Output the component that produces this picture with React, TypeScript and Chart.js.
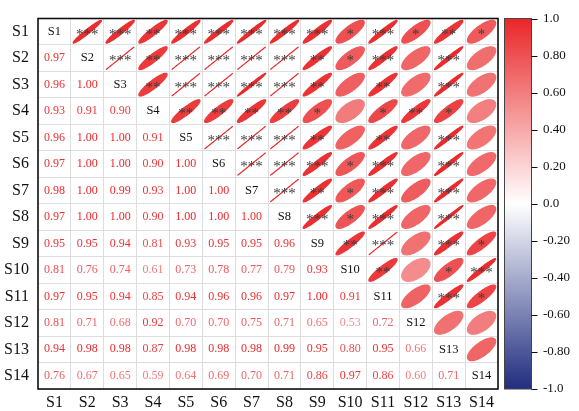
import React, { useEffect, useRef } from 'react';
import { Chart, registerables } from 'chart.js';

Chart.register(...registerables);

const labels = ['S1', 'S2', 'S3', 'S4', 'S5', 'S6', 'S7', 'S8', 'S9', 'S10', 'S11', 'S12', 'S13', 'S14'];

// lower triangle: lowerValues[row][col] for col < row
const lowerValues: number[][] = [
  [],
  [0.97],
  [0.96, 1.0],
  [0.93, 0.91, 0.9],
  [0.96, 1.0, 1.0, 0.91],
  [0.97, 1.0, 1.0, 0.9, 1.0],
  [0.98, 1.0, 0.99, 0.93, 1.0, 1.0],
  [0.97, 1.0, 1.0, 0.9, 1.0, 1.0, 1.0],
  [0.95, 0.95, 0.94, 0.81, 0.93, 0.95, 0.95, 0.96],
  [0.81, 0.76, 0.74, 0.61, 0.73, 0.78, 0.77, 0.79, 0.93],
  [0.97, 0.95, 0.94, 0.85, 0.94, 0.96, 0.96, 0.97, 1.0, 0.91],
  [0.81, 0.71, 0.68, 0.92, 0.7, 0.7, 0.75, 0.71, 0.65, 0.53, 0.72],
  [0.94, 0.98, 0.98, 0.87, 0.98, 0.98, 0.98, 0.99, 0.95, 0.8, 0.95, 0.66],
  [0.76, 0.67, 0.65, 0.59, 0.64, 0.69, 0.7, 0.71, 0.86, 0.97, 0.86, 0.6, 0.71],
];

// significance stars: stars[row][k] for col = row + 1 + k
const stars: string[][] = [
  ['***', '***', '**', '***', '***', '***', '***', '***', '*', '***', '*', '**', '*'],
  ['***', '**', '***', '***', '***', '***', '**', '*', '***', '', '***', ''],
  ['**', '***', '***', '***', '***', '**', '', '**', '', '***', ''],
  ['**', '**', '**', '**', '*', '', '*', '**', '*', ''],
  ['***', '***', '***', '**', '', '**', '', '***', ''],
  ['***', '***', '***', '*', '***', '', '***', ''],
  ['***', '**', '*', '***', '', '***', ''],
  ['***', '*', '***', '', '***', ''],
  ['**', '***', '', '***', '*'],
  ['**', '', '*', '***'],
  ['', '***', '*'],
  ['', ''],
  [''],
];

const colorbarMin = -1;
const colorbarMax = 1;
const colorbarStep = 0.2;

const FONT = '"Liberation Serif", "Times New Roman", serif';

const NEG = [33, 45, 128];
const MID = [255, 255, 255];
const POS = [234, 38, 40];

function colorFor(r: number): string {
  const t = Math.min(1, Math.abs(r));
  const c = r >= 0 ? POS : NEG;
  const v = MID.map((m, k) => Math.round(m + (c[k] - m) * t));
  return `rgb(${v[0]},${v[1]},${v[2]})`;
}

const matrixPlugin = {
  id: 'matrixPlugin',
  afterDraw(chart: any) {
    const { ctx, chartArea } = chart;
    const xs = chart.scales.x;
    const ys = chart.scales.y;
    const cb = chart.scales.cb;
    const n = labels.length;
    const cw = (chartArea.right - chartArea.left) / n;
    const chh = (chartArea.bottom - chartArea.top) / n;

    ctx.save();
    for (let i = 0; i < n; i++) {
      for (let j = 0; j < n; j++) {
        const cx = xs.getPixelForValue(j);
        const cy = ys.getPixelForValue(i);
        if (i === j) {
          ctx.fillStyle = '#111';
          ctx.font = `12.5px ${FONT}`;
          ctx.textAlign = 'center';
          ctx.textBaseline = 'middle';
          ctx.fillText(labels[i], cx, cy);
        } else if (j < i) {
          const r = lowerValues[i][j];
          ctx.fillStyle = colorFor(r);
          ctx.font = `12px ${FONT}`;
          ctx.textAlign = 'center';
          ctx.textBaseline = 'middle';
          ctx.fillText(r.toFixed(2), cx, cy);
        } else {
          const r = lowerValues[j][i];
          const d = Math.acos(Math.max(-1, Math.min(1, r)));
          const hw = (cw / 2) * 0.86;
          const hh = (chh / 2) * 0.86;
          ctx.beginPath();
          const steps = 80;
          for (let s = 0; s <= steps; s++) {
            const t = (s / steps) * Math.PI * 2;
            const px = cx + hw * Math.cos(t + d / 2);
            const py = cy - hh * Math.cos(t - d / 2);
            if (s === 0) ctx.moveTo(px, py);
            else ctx.lineTo(px, py);
          }
          ctx.closePath();
          const col = colorFor(r);
          ctx.fillStyle = col;
          ctx.strokeStyle = col;
          ctx.lineWidth = 1.2;
          ctx.fill();
          ctx.stroke();
          const st = stars[i][j - i - 1];
          if (st) {
            ctx.fillStyle = '#3c3c3c';
            ctx.font = `15px ${FONT}`;
            ctx.textAlign = 'center';
            ctx.textBaseline = 'alphabetic';
            ctx.fillText(st, cx, cy + 7);
          }
        }
      }
    }

    // outer border
    ctx.strokeStyle = '#111';
    ctx.lineWidth = 1.6;
    ctx.strokeRect(chartArea.left, chartArea.top, chartArea.right - chartArea.left, chartArea.bottom - chartArea.top);

    // colorbar
    const bx0 = cb.left + 6.5;
    const bx1 = cb.left + 33.5;
    const by0 = cb.getPixelForValue(colorbarMax);
    const by1 = cb.getPixelForValue(colorbarMin);
    const grad = ctx.createLinearGradient(0, by0, 0, by1);
    const stops = 40;
    for (let s = 0; s <= stops; s++) {
      const v = colorbarMax - (s / stops) * (colorbarMax - colorbarMin);
      grad.addColorStop(s / stops, colorFor(v));
    }
    ctx.fillStyle = grad;
    ctx.fillRect(bx0, by0, bx1 - bx0, by1 - by0);
    ctx.strokeStyle = '#444';
    ctx.lineWidth = 1;
    ctx.strokeRect(bx0, by0, bx1 - bx0, by1 - by0);

    // colorbar tick marks
    ctx.strokeStyle = '#111';
    ctx.lineWidth = 1;
    cb.ticks.forEach((tk: any) => {
      const py = Math.round(cb.getPixelForValue(tk.value)) + 0.5;
      ctx.beginPath();
      ctx.moveTo(bx1, py);
      ctx.lineTo(bx1 + 6, py);
      ctx.stroke();
    });
    ctx.restore();
  },
};

export default function App() {
  const canvasRef = useRef<HTMLCanvasElement | null>(null);

  useEffect(() => {
    document.body.style.margin = '0';
    const canvas = canvasRef.current;
    if (!canvas) return;
    const chart = new Chart(canvas, {
      type: 'scatter',
      data: { datasets: [{ data: [], pointRadius: 0 }] },
      options: {
        animation: false,
        responsive: true,
        maintainAspectRatio: false,
        devicePixelRatio: 1,
        layout: { padding: { top: 18.5, left: 0, right: 0, bottom: 0 } },
        plugins: { legend: { display: false }, tooltip: { enabled: false } },
        scales: {
          x: {
            type: 'category',
            labels: labels,
            position: 'bottom',
            offset: true,
            grid: { offset: true, color: '#dedede', lineWidth: 1, drawTicks: false },
            border: { display: false },
            ticks: { color: '#111', font: { family: FONT, size: 16 }, padding: 4, autoSkip: false, maxRotation: 0 },
            afterFit: (s: any) => {
              s.height = 22;
            },
          },
          y: {
            type: 'category',
            labels: labels,
            position: 'left',
            offset: true,
            grid: { offset: true, color: '#dedede', lineWidth: 1, drawTicks: true, tickLength: 4, tickColor: 'rgba(0,0,0,0)' },
            border: { display: false },
            ticks: { color: '#111', font: { family: FONT, size: 16 }, padding: 5, autoSkip: false },
            afterFit: (s: any) => {
              s.width = 38;
            },
          },
          cb: {
            type: 'linear',
            position: 'right',
            min: colorbarMin,
            max: colorbarMax,
            grid: { display: false, drawTicks: true, tickLength: 40, drawOnChartArea: false },
            border: { display: false },
            ticks: {
              stepSize: colorbarStep,
              color: '#111',
              font: { family: FONT, size: 13 },
              padding: 5,
              callback: (v: any) => {
                const val = Math.round(Number(v) * 100) / 100;
                if (val === 1 || val === -1 || val === 0) return val.toFixed(1);
                return val.toFixed(2);
              },
            },
            afterFit: (s: any) => {
              s.width = 81;
            },
          },
        },
      },
      plugins: [matrixPlugin],
    } as any);
    return () => chart.destroy();
  }, []);

  return (
    <div style={{ width: 579, height: 411, position: 'relative' }}>
      <canvas ref={canvasRef} style={{ display: 'block' }} />
    </div>
  );
}
